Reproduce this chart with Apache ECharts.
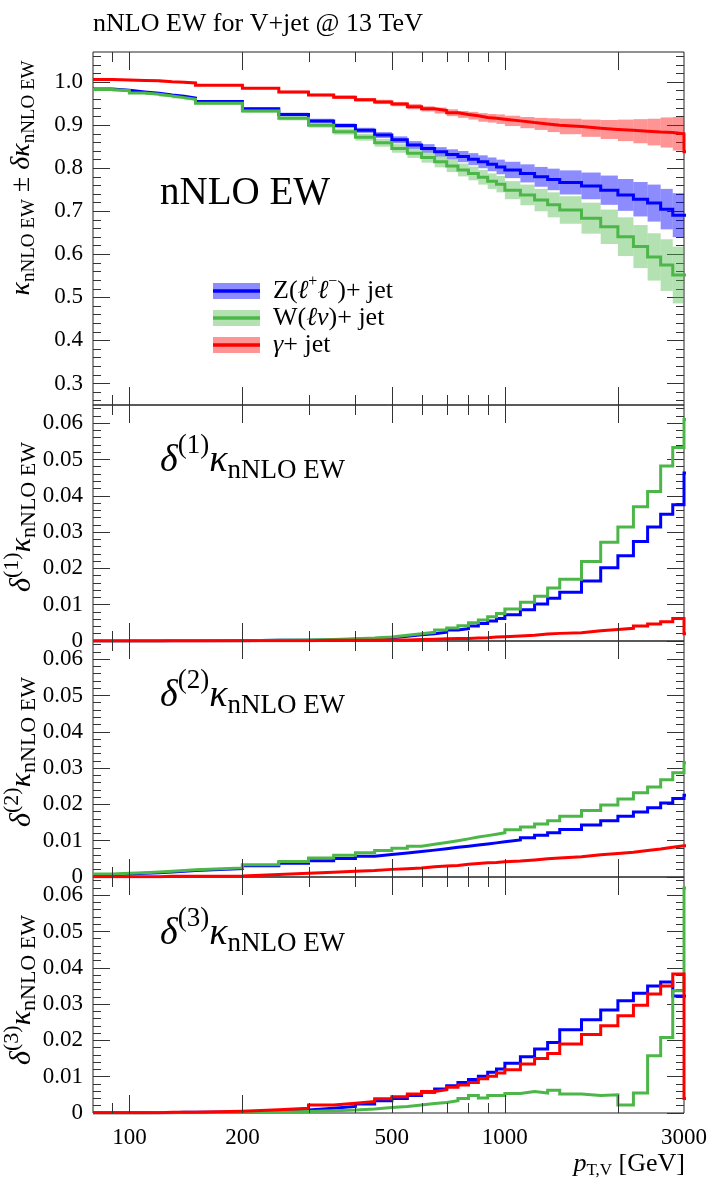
<!DOCTYPE html>
<html>
<head>
<meta charset="utf-8">
<title>nNLO EW for V+jet @ 13 TeV</title>
<script src="https://cdn.jsdelivr.net/npm/echarts@6/dist/echarts.min.js"></script>
<style>
  html, body { margin: 0; padding: 0; background: #fff; }
  #main { width: 712px; height: 1187px; }
</style>
</head>
<body>
<div id="main"></div>
<script>
// bin edges in GeV, the last bin (3000-3200) is cut off by the axis
const binEdges = [80, 90, 100, 110, 120, 130, 140, 150, 200, 250, 300, 350, 400, 450, 500, 550, 600, 650, 700, 750,
    800, 850, 900, 950, 1000, 1100, 1200, 1300, 1400, 1600, 1800, 2000, 2200, 2400, 2600, 2800, 3000, 3200];

// kappa nNLO EW, central values
const kappaZ = [0.984, 0.981, 0.977, 0.974, 0.970, 0.967, 0.963, 0.955, 0.938, 0.925, 0.910, 0.899, 0.888, 0.877, 0.866,
    0.854, 0.846, 0.838, 0.832, 0.827, 0.821, 0.815, 0.809, 0.803, 0.796, 0.788, 0.780, 0.774, 0.767, 0.759, 0.749,
    0.738, 0.728, 0.719, 0.705, 0.691, 0.691];
const kappaW = [0.983, 0.980, 0.975, 0.972, 0.968, 0.964, 0.960, 0.951, 0.933, 0.916, 0.900, 0.885, 0.872, 0.859, 0.846,
    0.835, 0.825, 0.815, 0.805, 0.796, 0.788, 0.779, 0.770, 0.763, 0.749, 0.738, 0.726, 0.715, 0.703, 0.684, 0.664,
    0.641, 0.618, 0.594, 0.575, 0.552, 0.552];
const kappaA = [1.006, 1.005, 1.004, 1.003, 1.001, 1.000, 0.998, 0.993, 0.986, 0.977, 0.970, 0.965, 0.959, 0.954, 0.949,
    0.943, 0.938, 0.934, 0.929, 0.925, 0.922, 0.918, 0.916, 0.914, 0.910, 0.906, 0.903, 0.900, 0.897, 0.893, 0.890,
    0.888, 0.886, 0.884, 0.883, 0.880, 0.838];

// +- delta kappa (band half width)
const errZ = [0.002, 0.002, 0.002, 0.002, 0.002, 0.002, 0.002, 0.003, 0.003, 0.004, 0.005, 0.005, 0.006, 0.007, 0.008,
    0.009, 0.010, 0.011, 0.012, 0.013, 0.014, 0.015, 0.016, 0.017, 0.019, 0.021, 0.023, 0.025, 0.028, 0.031, 0.034,
    0.037, 0.040, 0.043, 0.047, 0.051, 0.051];
const errW = [0.002, 0.002, 0.002, 0.002, 0.002, 0.002, 0.002, 0.003, 0.004, 0.005, 0.006, 0.007, 0.008, 0.009, 0.010,
    0.011, 0.012, 0.013, 0.014, 0.015, 0.016, 0.017, 0.018, 0.019, 0.021, 0.024, 0.026, 0.029, 0.032, 0.036, 0.040,
    0.045, 0.050, 0.055, 0.060, 0.066, 0.066];
const errA = [0.002, 0.002, 0.002, 0.002, 0.002, 0.002, 0.002, 0.002, 0.002, 0.003, 0.003, 0.004, 0.004, 0.005, 0.005,
    0.006, 0.006, 0.007, 0.008, 0.008, 0.009, 0.010, 0.010, 0.011, 0.012, 0.013, 0.014, 0.016, 0.018, 0.020, 0.022,
    0.025, 0.028, 0.031, 0.035, 0.039, 0.039];

// delta(1) kappa
const delta1Z = [0, 0, 0, 0, 0.0001, 0.0001, 0.0001, 0.0001, 0.0002, 0.0002, 0.0003, 0.0005, 0.0007, 0.0009, 0.0013,
    0.0017, 0.0020, 0.0024, 0.0030, 0.0034, 0.0041, 0.0048, 0.0055, 0.0062, 0.0072, 0.0086, 0.0102, 0.0118, 0.0134,
    0.0165, 0.0202, 0.0235, 0.0274, 0.0314, 0.0349, 0.0375, 0.0463];
const delta1W = [0, 0, 0, 0, 0.0001, 0.0001, 0.0001, 0.0001, 0.0002, 0.0003, 0.0004, 0.0006, 0.0008, 0.0011, 0.0016,
    0.0020, 0.0024, 0.0030, 0.0036, 0.0042, 0.0050, 0.0058, 0.0067, 0.0076, 0.0088, 0.0107, 0.0123, 0.0146, 0.0170,
    0.0219, 0.0272, 0.0314, 0.0370, 0.0412, 0.0482, 0.0533, 0.0610];
const delta1A = [0, 0, 0, 0, 0, 0, 0, 0.0001, 0.0001, 0.0001, 0.0002, 0.0002, 0.0002, 0.0003, 0.0003,
    0.0004, 0.0005, 0.0006, 0.0007, 0.0007, 0.0008, 0.0009, 0.0011, 0.0012, 0.0014, 0.0016, 0.0019, 0.0021, 0.0023,
    0.0028, 0.0032, 0.0035, 0.0041, 0.0047, 0.0053, 0.0062, 0.0020];

// delta(2) kappa
const delta2Z = [0.0006, 0.0008, 0.0010, 0.0012, 0.0014, 0.0016, 0.0018, 0.0023, 0.0031, 0.0038, 0.0045, 0.0051, 0.0057,
    0.0062, 0.0066, 0.0070, 0.0074, 0.0078, 0.0082, 0.0085, 0.0088, 0.0091, 0.0094, 0.0097, 0.0102, 0.0108, 0.0115,
    0.0122, 0.0131, 0.0143, 0.0155, 0.0167, 0.0179, 0.0191, 0.0204, 0.0216, 0.0225];
const delta2W = [0.0008, 0.0010, 0.0012, 0.0014, 0.0016, 0.0018, 0.0020, 0.0025, 0.0034, 0.0043, 0.0052, 0.0060, 0.0067,
    0.0073, 0.0079, 0.0085, 0.0090, 0.0095, 0.0100, 0.0105, 0.0110, 0.0114, 0.0118, 0.0122, 0.0130, 0.0138, 0.0146,
    0.0155, 0.0167, 0.0183, 0.0198, 0.0215, 0.0232, 0.0248, 0.0268, 0.0287, 0.0315];
const delta2A = [0.0001, 0.0001, 0.0001, 0.0001, 0.0002, 0.0002, 0.0002, 0.0003, 0.0007, 0.0010, 0.0013, 0.0016, 0.0018,
    0.0021, 0.0023, 0.0025, 0.0028, 0.0030, 0.0032, 0.0035, 0.0037, 0.0039, 0.0040, 0.0042, 0.0044, 0.0047, 0.0050,
    0.0052, 0.0056, 0.0061, 0.0065, 0.0068, 0.0073, 0.0077, 0.0082, 0.0086, 0.0088];

// delta(3) kappa
const delta3Z = [0.0001, 0.0001, 0.0001, 0.0001, 0.0001, 0.0002, 0.0002, 0.0003, 0.0005, 0.0008, 0.0013, 0.0018, 0.0025,
    0.0034, 0.0040, 0.0048, 0.0057, 0.0066, 0.0075, 0.0084, 0.0092, 0.0101, 0.0112, 0.0121, 0.0137, 0.0155, 0.0176,
    0.0194, 0.0229, 0.0257, 0.0284, 0.0309, 0.0330, 0.0350, 0.0361, 0.0322, 0.0322];
const delta3W = [0, 0, 0, 0.0001, 0.0001, 0.0001, 0.0001, 0.0002, 0.0003, 0.0004, 0.0006, 0.0008, 0.0011, 0.0015,
    0.0018, 0.0022, 0.0026, 0.0029, 0.0034, 0.0040, 0.0048, 0.0041, 0.0048, 0.0048, 0.0054, 0.0059, 0.0055, 0.0063,
    0.0052, 0.0048, 0.0050, 0.0022, 0.0055, 0.0158, 0.0208, 0.0337, 0.0620];
const delta3A = [0.0001, 0.0001, 0.0001, 0.0001, 0.0002, 0.0002, 0.0002, 0.0005, 0.0009, 0.0013, 0.0022, 0.0027, 0.0032,
    0.0039, 0.0045, 0.0052, 0.0059, 0.0064, 0.0071, 0.0077, 0.0084, 0.0094, 0.0101, 0.0110, 0.0119, 0.0135, 0.0150,
    0.0164, 0.0190, 0.0216, 0.0240, 0.0268, 0.0297, 0.0328, 0.0350, 0.0383, 0.0040];

// axis ticks and labels
const xLongTicks = [100, 200, 500, 1000, 2000];
const xShortTicks = [90, 300, 400, 600, 700, 800, 900];
const xLabels = [100, 200, 500, 1000, 3000];
const kappaTicks = [0.3, 0.4, 0.5, 0.6, 0.7, 0.8, 0.9, 1.0];
const deltaTicks = [0, 0.01, 0.02, 0.03, 0.04, 0.05, 0.06];

const FONT = 'Liberation Serif';
const colZ = '#0000ff', colW = '#4cb748', colA = '#ff0000';
const bandZ = 'rgba(0,0,255,0.45)', bandW = 'rgba(76,183,72,0.42)', bandA = 'rgba(255,0,0,0.42)';

// minor ticks, 5 per major interval
function minorTicks(lo, hi, step) {
    let out = [];
    for (let i = Math.round(lo / step); i * step <= hi + 1e-9; i = i + 1) {
        if (i % 5 !== 0) out.push(+(i * step).toFixed(4));
    }
    return out;
}

const panels = [
    {top: 52, height: 353, min: 0.25, max: 1.07, major: kappaTicks, minor: minorTicks(0.25, 1.07, 0.02),
        fmt: function (v) { return v.toFixed(1); }, lines: [kappaZ, kappaW, kappaA]},
    {top: 405, height: 236, min: 0, max: 0.065, major: deltaTicks, minor: minorTicks(0, 0.065, 0.002),
        fmt: function (v) { return v === 0 ? '0' : v.toFixed(2); }, lines: [delta1Z, delta1W, delta1A]},
    {top: 641, height: 236, min: 0, max: 0.065, major: deltaTicks, minor: minorTicks(0, 0.065, 0.002),
        fmt: function (v) { return v === 0 ? '0' : v.toFixed(2); }, lines: [delta2Z, delta2W, delta2A]},
    {top: 877, height: 236, min: 0, max: 0.065, major: deltaTicks, minor: minorTicks(0, 0.065, 0.002),
        fmt: function (v) { return v === 0 ? '0' : v.toFixed(2); }, lines: [delta3Z, delta3W, delta3A]}
];

function stepData(vals) {
    return binEdges.map(function (e, i) { return [e, vals[Math.min(i, vals.length - 1)]]; });
}

function bandData(vals, err) {
    return vals.map(function (v, i) { return [binEdges[i], binEdges[i + 1], v - err[i], v + err[i]]; });
}

function bandSeries(vals, err, color) {
    return {
        type: 'custom', xAxisIndex: 0, yAxisIndex: 0, z: 2, silent: true,
        data: bandData(vals, err),
        encode: {x: [0, 1], y: [2, 3]},
        renderItem: function (params, api) {
            let p0 = api.coord([api.value(0), api.value(3)]);
            let p1 = api.coord([api.value(1), api.value(2)]);
            let cs = params.coordSys;
            let shape = echarts.graphic.clipRectByRect(
                {x: p0[0], y: p0[1], width: p1[0] - p0[0], height: p1[1] - p0[1]},
                {x: cs.x, y: cs.y, width: cs.width, height: cs.height});
            return shape && {type: 'rect', shape: shape, style: {fill: color}};
        }
    };
}

function lineSeries(g, vals, color) {
    return {
        type: 'line', xAxisIndex: g, yAxisIndex: g * 4, z: 3,
        data: stepData(vals), step: 'end', showSymbol: false, symbol: 'none',
        lineStyle: {color: color, width: 3, join: 'miter'}, silent: true
    };
}

function tickSeries(g) {
    let p = panels[g];
    let data = xLongTicks.map(function (v) { return [v, 1]; })
        .concat(xShortTicks.map(function (v) { return [v, 0]; }));
    return {
        type: 'custom', xAxisIndex: g, yAxisIndex: g * 4, z: 4, silent: true,
        data: data, encode: {x: 0},
        renderItem: function (params, api) {
            let x = Math.round(api.coord([api.value(0), p.min])[0]) + 0.5;
            let len = api.value(1) ? 18 : 10;
            let cs = params.coordSys;
            let st = {stroke: '#333', lineWidth: 1};
            return {type: 'group', children: [
                {type: 'line', shape: {x1: x, y1: cs.y, x2: x, y2: cs.y + len}, style: st},
                {type: 'line', shape: {x1: x, y1: cs.y + cs.height, x2: x, y2: cs.y + cs.height - len}, style: st}
            ]};
        }
    };
}

function xLabelSeries() {
    return {
        type: 'custom', xAxisIndex: 3, yAxisIndex: 12, z: 4, silent: true,
        data: xLabels.map(function (v) { return [v, 0]; }), encode: {x: 0},
        renderItem: function (params, api) {
            let x = api.coord([api.value(0), 0])[0];
            let cs = params.coordSys;
            return {type: 'text', x: x, y: cs.y + cs.height + 13, style: {
                text: String(api.value(0)), fill: '#000', font: '23px Liberation Serif',
                fontFamily: FONT, fontSize: 23,
                align: 'center', textAlign: 'center', verticalAlign: 'top', textVerticalAlign: 'top'}};
        }
    };
}

let grids = [], xAxes = [], yAxes = [], series = [];
panels.forEach(function (p, g) {
    grids.push({left: 93, top: p.top, width: 591, height: p.height, show: true,
        borderColor: '#222', borderWidth: 1, backgroundColor: 'transparent'});
    xAxes.push({type: 'log', logBase: 10, min: 80, max: 3000, gridIndex: g,
        axisLine: {show: false}, axisTick: {show: false}, axisLabel: {show: false}, splitLine: {show: false}});
    let common = {type: 'value', gridIndex: g, min: p.min, max: p.max,
        axisLine: {show: false}, splitLine: {show: false}};
    let tickStyle = {color: '#333', width: 1};
    yAxes.push(Object.assign({}, common, {position: 'left',
        axisTick: {inside: true, length: 17, customValues: p.major, lineStyle: tickStyle},
        axisLabel: {customValues: p.major, formatter: p.fmt, margin: 10, fontFamily: FONT, fontSize: 23, color: '#000'}}));
    yAxes.push(Object.assign({}, common, {position: 'left',
        axisTick: {inside: true, length: 8, customValues: p.minor, lineStyle: tickStyle}, axisLabel: {show: false}}));
    yAxes.push(Object.assign({}, common, {position: 'right',
        axisTick: {inside: true, length: 17, customValues: p.major, lineStyle: tickStyle}, axisLabel: {show: false}}));
    yAxes.push(Object.assign({}, common, {position: 'right',
        axisTick: {inside: true, length: 8, customValues: p.minor, lineStyle: tickStyle}, axisLabel: {show: false}}));
    series.push(tickSeries(g));
    series.push(lineSeries(g, p.lines[0], colZ));
    series.push(lineSeries(g, p.lines[1], colW));
    series.push(lineSeries(g, p.lines[2], colA));
});
series.push(bandSeries(kappaZ, errZ, bandZ));
series.push(bandSeries(kappaW, errW, bandW));
series.push(bandSeries(kappaA, errA, bandA));
series.push(xLabelSeries());

// rich text styles
function rich(F, S, padSub, padSup) {
    return {
        i: {fontFamily: FONT, fontSize: F, fontStyle: 'italic', fill: '#000'},
        r: {fontFamily: FONT, fontSize: F, fill: '#000'},
        sub: {fontFamily: FONT, fontSize: S, fill: '#000', padding: [padSub, 0, 0, 0]},
        sup: {fontFamily: FONT, fontSize: S, fill: '#000', padding: [0, 0, padSup, 0]}
    };
}

function label(x, y, text, r, rot, align) {
    return {type: 'text', x: x, y: y, rotation: rot || 0, z: 10, silent: true,
        style: {text: text, rich: r, align: align || 'left', textAlign: align || 'left',
            verticalAlign: 'middle', textVerticalAlign: 'middle', fill: '#000'}};
}

let graphics = [
    {type: 'text', x: 93, y: 24, z: 10, style: {text: 'nNLO EW for V+jet @ 13 TeV', fill: '#000',
        fontFamily: FONT, fontSize: 26, verticalAlign: 'middle', textVerticalAlign: 'middle'}},
    {type: 'text', x: 160, y: 194, z: 10, style: {text: 'nNLO EW', fill: '#000',
        fontFamily: FONT, fontSize: 39, verticalAlign: 'middle', textVerticalAlign: 'middle'}},
    label(160, 461, '{i|δ}{sup|(1)}{i|κ}{sub|nNLO EW}', rich(38, 27, 20, 30)),
    label(160, 696, '{i|δ}{sup|(2)}{i|κ}{sub|nNLO EW}', rich(38, 27, 20, 30)),
    label(160, 934, '{i|δ}{sup|(3)}{i|κ}{sub|nNLO EW}', rich(38, 27, 20, 30)),
    label(22, 178, '{i|κ}{sub|nNLO EW}{r| ± }{i|δκ}{sub|nNLO EW}', rich(28, 19, 15, 16), Math.PI / 2, 'center'),
    label(22, 517, '{i|δ}{sup|(1)}{i|κ}{sub|nNLO EW}', rich(30, 22, 15, 20), Math.PI / 2, 'center'),
    label(22, 752, '{i|δ}{sup|(2)}{i|κ}{sub|nNLO EW}', rich(30, 22, 15, 20), Math.PI / 2, 'center'),
    label(22, 990, '{i|δ}{sup|(3)}{i|κ}{sub|nNLO EW}', rich(30, 22, 15, 20), Math.PI / 2, 'center'),
    label(685, 1164, '{i|p}{sub|T,V}{r| [GeV]}', rich(26, 17, 14, 14), 0, 'right')
];

// legend
const legendItems = [
    {text: '{r|Z(}{i|ℓ}{sup|+}{i|ℓ}{sup|−}{r|)+ jet}', line: colZ, band: bandZ},
    {text: '{r|W(}{i|ℓν}{r|)+ jet}', line: colW, band: bandW},
    {text: '{i|γ}{r|+ jet}', line: colA, band: bandA}
];
legendItems.forEach(function (it, i) {
    let y = 291 + i * 27;
    graphics.push({type: 'rect', z: 10, shape: {x: 213, y: y - 8, width: 47, height: 16}, style: {fill: it.band}});
    graphics.push({type: 'line', z: 11, shape: {x1: 213, y1: y, x2: 260, y2: y}, style: {stroke: it.line, lineWidth: 3.5}});
    graphics.push(label(273, y, it.text, rich(26, 16, 10, 18)));
});

let myChart = echarts.init(document.getElementById('main'), null, {renderer: 'canvas'});
myChart.setOption({
    animation: false,
    backgroundColor: '#fff',
    grid: grids,
    xAxis: xAxes,
    yAxis: yAxes,
    series: series,
    graphic: graphics
});
</script>
</body>
</html>
